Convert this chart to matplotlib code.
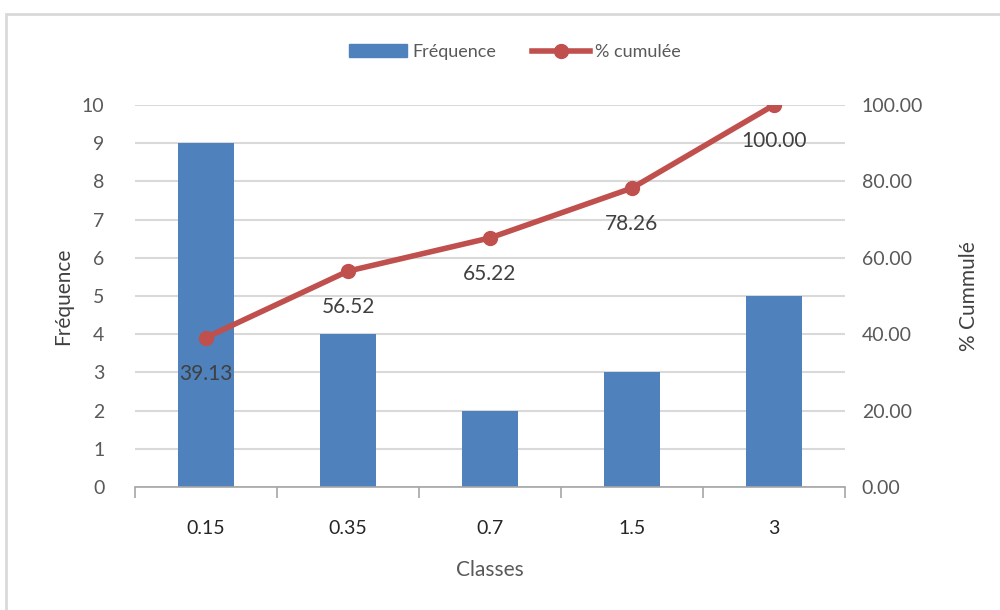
import matplotlib.pyplot as plt
from matplotlib.patches import Rectangle
from matplotlib.lines import Line2D

classes = ["0.15", "0.35", "0.7", "1.5", "3"]
frequence = [9, 4, 2, 3, 5]
pct_cumulee = [39.13, 56.52, 65.22, 78.26, 100.00]

BLUE = "#4F81BD"
RED = "#C0504D"
TXT = "#595959"

plt.rcParams['font.family'] = ['Lato', 'DejaVu Sans']

fig = plt.figure(figsize=(10, 6.1), dpi=100)
fig.patches.append(Rectangle((0.006, -0.1), 1.2, 1.1 - 14 / 610, transform=fig.transFigure,
                             fill=False, edgecolor="#D9D9D9", linewidth=2))

ax = fig.add_axes([0.135, 0.2016, 0.71, 0.6262])
x = list(range(len(classes)))
ax.bar(x, frequence, width=0.4, color=BLUE, zorder=2)
ax.set_xlim(-0.5, len(classes) - 0.5)
ax.set_ylim(0, 10)
ax.set_yticks(range(0, 11))
ax.grid(axis='y', color="#D9D9D9", linewidth=1.5, zorder=0)
ax.set_axisbelow(True)

# category boundaries as tick marks, labels at centers
ax.set_xticks([i - 0.5 for i in range(len(classes) + 1)])
ax.set_xticklabels([])
ax.set_xticks(x, minor=True)
ax.set_xticklabels(classes, minor=True)
ax.tick_params(axis='x', which='major', length=8, color="#A6A6A6", width=1.2)
ax.tick_params(axis='x', which='minor', length=0, pad=24, labelsize=14, labelcolor="#262626")
ax.tick_params(axis='y', length=0, labelsize=14, labelcolor=TXT, pad=22)

for s in ['top', 'right', 'left']:
    ax.spines[s].set_visible(False)
ax.spines['bottom'].set_color("#A6A6A6")
ax.spines['bottom'].set_linewidth(1.2)

ax.set_ylabel("Fréquence", fontsize=15, color="#404040", labelpad=6)
ax.set_xlabel("Classes", fontsize=15, color=TXT, labelpad=16)

ax2 = ax.twinx()
ax2.plot(x, pct_cumulee, color=RED, linewidth=4, marker='o', markersize=10, zorder=3)
ax2.set_ylim(0, 100)
ax2.set_yticks(range(0, 101, 20))
ax2.set_yticklabels(["%.2f" % v for v in range(0, 101, 20)])
ax2.tick_params(axis='y', length=0, labelsize=14, labelcolor=TXT, pad=12)
for s in ['top', 'right', 'left', 'bottom']:
    ax2.spines[s].set_visible(False)
ax2.set_ylabel("% Cummulé", fontsize=15, color="#404040", labelpad=26)

for xi, v in zip(x, pct_cumulee):
    ax2.annotate("%.2f" % v, (xi, v), xytext=(0, -36), textcoords='offset pixels',
                 ha='center', va='center', fontsize=15, color="#404040")

handles = [Rectangle((0, 0), 1, 1, color=BLUE),
           Line2D([0], [0], color=RED, linewidth=4, marker='o', markersize=10)]
fig.legend(handles, ["Fréquence", "% cumulée"], loc='center', bbox_to_anchor=(0.515, 0.915),
           ncol=2, frameon=False, fontsize=13, labelcolor=TXT, handlelength=3.2,
           handletextpad=0.3, columnspacing=2.0)

fig.savefig("out.png", dpi=100)
